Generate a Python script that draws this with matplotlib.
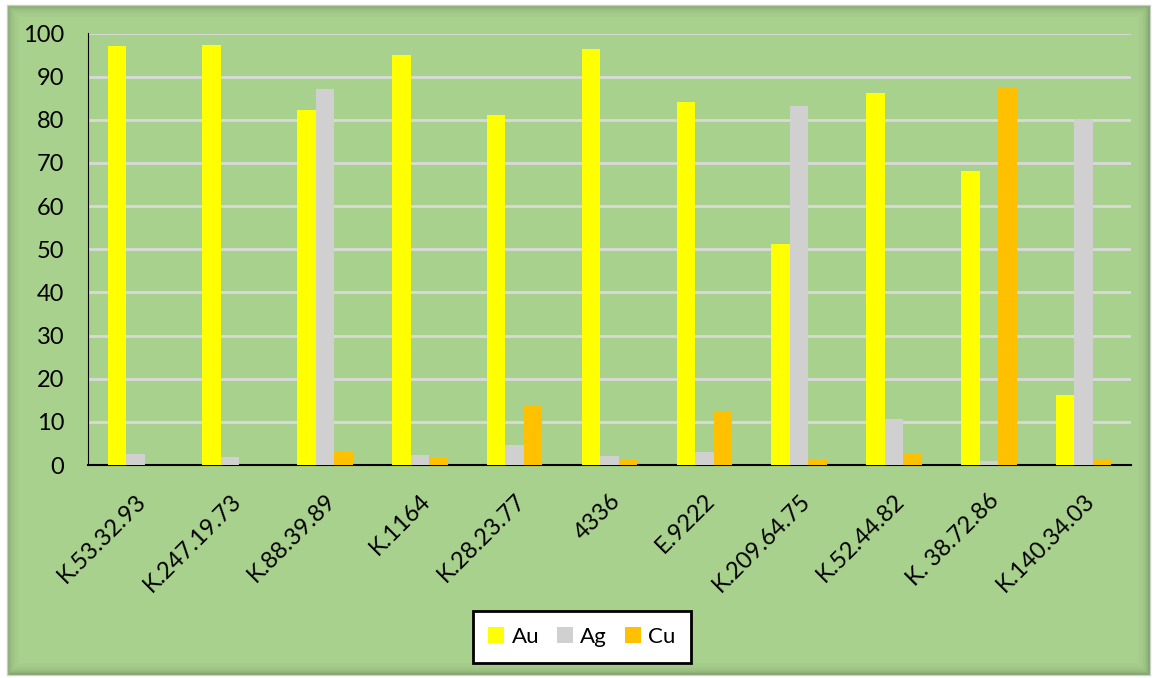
import numpy as np
import matplotlib.pyplot as plt
from matplotlib.patches import Rectangle

samples = ['K.53.32.93', 'K.247.19.73', 'K.88.39.89', 'K.1164', 'K.28.23.77',
           '4336', 'E.9222', 'K.209.64.75', 'K.52.44.82', 'K. 38.72.86', 'K.140.34.03']
au = [97.1, 97.3, 82.3, 95.0, 81.1, 96.4, 84.1, 51.2, 86.2, 68.1, 16.2]
ag = [2.6, 1.8, 87.1, 2.3, 4.6, 2.2, 2.9, 83.2, 10.6, 1.0, 80.1]
cu = [0.0, 0.0, 3.0, 1.9, 13.7, 1.1, 12.3, 1.4, 2.6, 87.4, 1.1]

green = '#A9D18E'
plt.rcParams['font.family'] = ['Lato', 'DejaVu Sans']

fig = plt.figure(figsize=(11.53, 6.78), dpi=100, facecolor='white')

# green panel with a soft inner shadow around its edge
x0, y0 = 7 / 1153, 3 / 678
w, h = 1143 / 1153, 670 / 678
fig.patches.append(Rectangle((x0, y0), w, h, transform=fig.transFigure,
                             facecolor='#6E8C5C', edgecolor='#d0d0d0', lw=1, zorder=-3))
for i in range(12):
    dx, dy = i / 1153, i / 678
    fig.patches.append(Rectangle((x0 + dx, y0 + dy), w - 2 * dx, h - 2 * dy,
                                 transform=fig.transFigure, facecolor=green,
                                 edgecolor='none', alpha=0.25, zorder=-2))
fig.patches.append(Rectangle((x0 + 12 / 1153, y0 + 12 / 678), w - 24 / 1153, h - 24 / 678,
                             transform=fig.transFigure, facecolor=green,
                             edgecolor='none', zorder=-1))

ax = fig.add_axes([88 / 1153, 1 - 465 / 678, 1043 / 1153, 431.5 / 678])
ax.set_facecolor('none')

x = np.arange(len(samples))
bw = 0.195
ax.bar(x - bw, au, bw, color='#FFFF00', label='Au', zorder=3)
ax.bar(x, ag, bw, color='#D0D0D0', label='Ag', zorder=3)
ax.bar(x + bw, cu, bw, color='#FFC000', label='Cu', zorder=3)

ax.set_xlim(-0.5, len(samples) - 0.5)
ax.set_ylim(0, 100)
ax.set_yticks(range(0, 101, 10))
ax.yaxis.grid(True, color='#D9D9D9', lw=2, zorder=0)
ax.set_axisbelow(True)

for s in ['top', 'right']:
    ax.spines[s].set_visible(False)
ax.spines['left'].set_color('black')
ax.spines['bottom'].set_color('black')
ax.spines['bottom'].set_linewidth(1.5)
ax.tick_params(axis='y', length=0, labelsize=17, pad=17)
ax.set_xticks(x)
ax.set_xticklabels(samples, rotation=45, ha='right', rotation_mode='anchor', fontsize=17)
ax.tick_params(axis='x', length=0, pad=18)

leg = ax.legend(loc='center', bbox_to_anchor=(582 / 1153, 1 - 637 / 678),
                bbox_transform=fig.transFigure, ncol=3, fontsize=16,
                frameon=True, fancybox=False, handlelength=0.7, handleheight=0.7,
                handletextpad=0.35, columnspacing=0.8, borderpad=0.7)
leg.get_frame().set_edgecolor('black')
leg.get_frame().set_linewidth(2)
leg.get_frame().set_facecolor('white')
leg.get_frame().set_alpha(1)

fig.savefig('out.png', dpi=100, facecolor='white')
